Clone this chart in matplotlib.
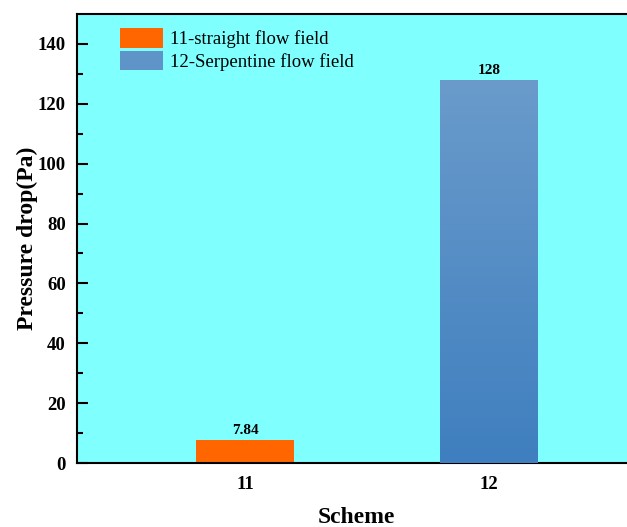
import matplotlib.pyplot as plt
import numpy as np
from matplotlib.patches import Rectangle

plt.rcParams['font.family'] = ['Liberation Serif', 'DejaVu Serif']

schemes = [11, 12]
pressure_drop = [7.84, 128]
value_labels = ['7.84', '128']
legend_labels = ['11-straight flow field', '12-Serpentine flow field']

blue_top = np.array([0x6A, 0x9B, 0xCB]) / 255
blue_bottom = np.array([0x3F, 0x7F, 0xBF]) / 255
grad = np.linspace(0, 1, 256)[:, None, None]
grad_img = blue_bottom + (blue_top - blue_bottom) * grad

fig = plt.figure(figsize=(6.27, 5.27), dpi=100)
ax = fig.add_axes([0.1228, 0.1214, 0.925, 0.852])
ax.set_facecolor('#80FFFF')

bars = ax.bar(schemes, pressure_drop, width=0.4, color=['#FF6600', '#5F94C8'], zorder=2)

# gradient fill for the second bar
b = bars[1]
im = ax.imshow(grad_img, origin='lower', aspect='auto', zorder=3,
               extent=[b.get_x(), b.get_x() + b.get_width(), 0, b.get_height()])
im.set_clip_path(b)

for x, v, s in zip(schemes, pressure_drop, value_labels):
    ax.text(x, v + 1.0, s, ha='center', va='bottom', fontsize=11, fontweight='bold')

ax.set_xlim(10.31, 12.69)
ax.set_ylim(0, 150)
ax.set_xticks(schemes)
ax.set_xticklabels([str(s) for s in schemes])
ax.set_yticks(np.arange(0, 141, 20))
ax.set_yticks(np.arange(10, 150, 20), minor=True)
ax.tick_params(axis='y', which='major', direction='in', length=8, width=1.5, labelsize=13.5, pad=8)
ax.tick_params(axis='y', which='minor', direction='in', length=4, width=1.5)
ax.tick_params(axis='x', length=0, labelsize=13.5, pad=9)
for lab in ax.get_xticklabels() + ax.get_yticklabels():
    lab.set_fontweight('bold')

for sp in ax.spines.values():
    sp.set_linewidth(1.5)

ax.set_xlabel('Scheme', fontsize=17, fontweight='bold')
ax.xaxis.set_label_coords(0.481, -0.098)
ax.set_ylabel('Pressure drop(Pa)', fontsize=17, fontweight='bold', labelpad=0)

h1 = Rectangle((0, 0), 1, 1, facecolor='#FF6600')
h2 = Rectangle((0, 0), 1, 1, facecolor='#5F94C8')
ax.legend([h1, h2], legend_labels, loc='upper left', bbox_to_anchor=(0.055, 0.993),
          frameon=False, fontsize=13.5, handlelength=2.3, handleheight=1.2,
          handletextpad=0.35, labelspacing=0.15, borderaxespad=0.2)

fig.savefig('out.png', dpi=100)
